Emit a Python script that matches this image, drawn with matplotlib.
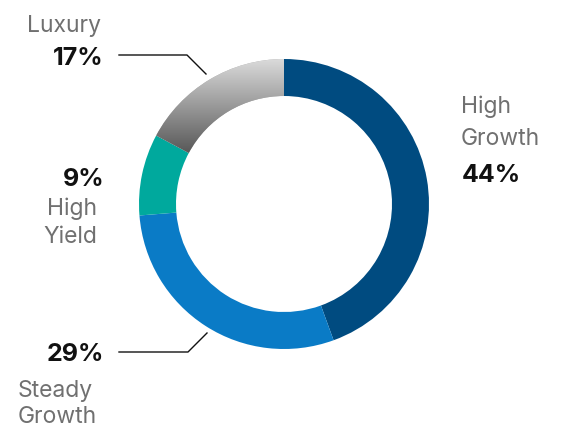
import numpy as np
import matplotlib
matplotlib.use("Agg")
import matplotlib.pyplot as plt
from matplotlib.colors import LinearSegmentedColormap

# Data
labels = ["High\nGrowth", "Steady\nGrowth", "High\nYield", "Luxury"]
values = [44, 29, 9, 17]
colors = ["#004b80", "#0a7bc6", "#00a99d", "#aaaaaa"]

W, H = 572, 429
cx, cy = 284, H - 204
r_out, ring = 145, 37

fig = plt.figure(figsize=(5.72, 4.29), dpi=100)
ax = fig.add_axes([0, 0, 1, 1])

wedges, _ = ax.pie(values, colors=colors, startangle=90, counterclock=False,
                   radius=r_out, center=(cx, cy),
                   wedgeprops=dict(width=ring, linewidth=0))

# grey gradient on the luxury slice
lux = wedges[3]
grad = np.linspace(0, 1, 256).reshape(-1, 1)
cmap = LinearSegmentedColormap.from_list("lux", ["#555555", "#dcdcdc"])
img = ax.imshow(grad, cmap=cmap, origin="lower", aspect="auto",
                extent=[cx - r_out, cx + 2, H - 155, H - 58], zorder=3)
img.set_clip_path(lux)

ax.set_xlim(0, W)
ax.set_ylim(0, H)
ax.set_aspect("equal")
ax.set_axis_off()

grey = "#707070"
lab_font = dict(family=["Inter", "DejaVu Sans"], fontsize=16.5, color=grey)
pct_font = dict(family=["Inter", "DejaVu Sans"], fontsize=18, color="#111111",
                fontweight="bold")

# High Growth
ax.text(461, H - 113, "High", ha="left", va="baseline", **lab_font)
ax.text(461, H - 145, "Growth", ha="left", va="baseline", **lab_font)
ax.text(462, H - 182, f"{values[0]}%", ha="left", va="baseline", **pct_font)

# Steady Growth
ax.text(104, H - 361, f"{values[1]}%", ha="right", va="baseline", **pct_font)
ax.text(18, H - 397, "Steady", ha="left", va="baseline", **lab_font)
ax.text(18, H - 423, "Growth", ha="left", va="baseline", **lab_font)

# High Yield
ax.text(104, H - 186, f"{values[2]}%", ha="right", va="baseline", **pct_font)
ax.text(97, H - 215, "High", ha="right", va="baseline", **lab_font)
ax.text(97, H - 243, "Yield", ha="right", va="baseline", **lab_font)

# Luxury
ax.text(101, H - 32, "Luxury", ha="right", va="baseline", **lab_font)
ax.text(104, H - 65, f"{values[3]}%", ha="right", va="baseline", **pct_font)

# leader lines
ax.plot([119, 187, 206], [H - 55, H - 55, H - 74], color="#111111", lw=1.0)
ax.plot([119, 188, 207], [H - 352, H - 352, H - 333], color="#111111", lw=1.0)

fig.savefig("out.png", dpi=100)
